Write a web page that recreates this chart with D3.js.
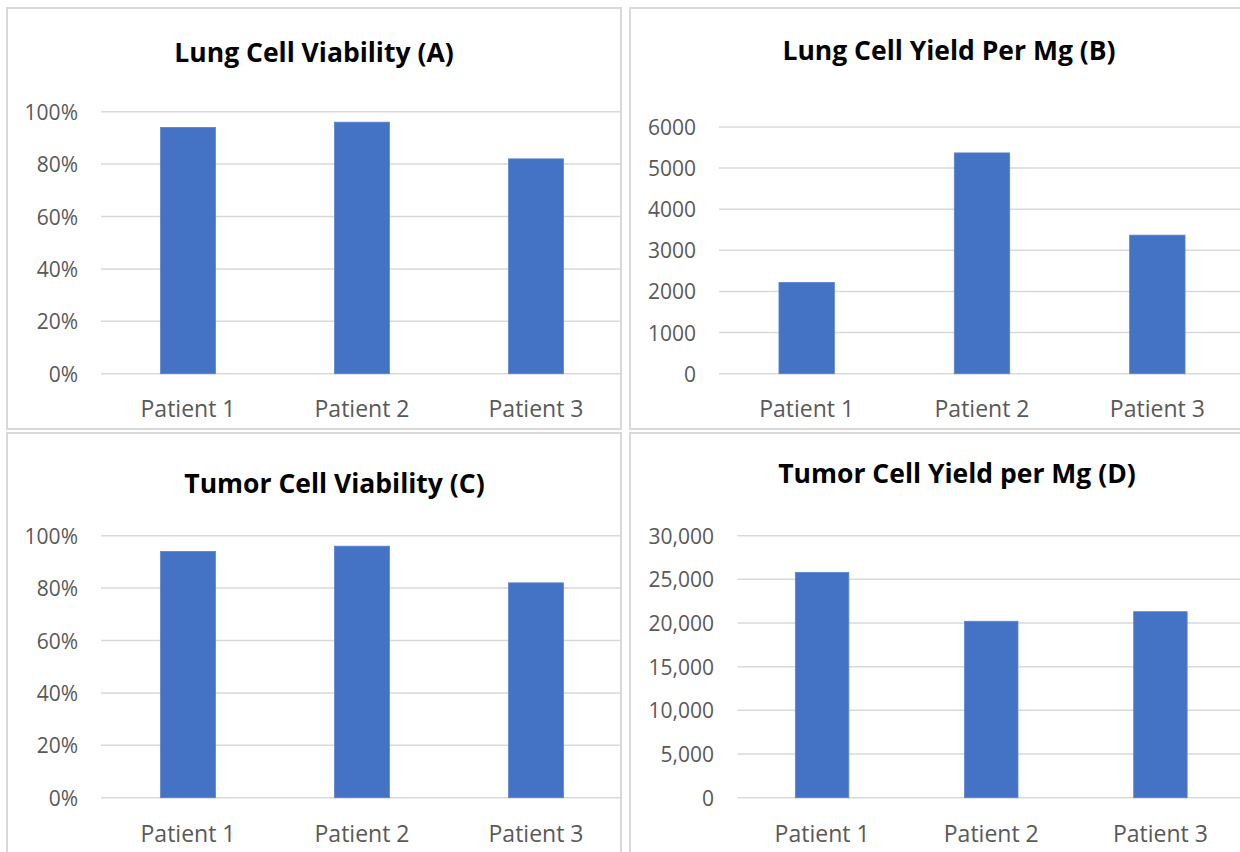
<!DOCTYPE html>
<html>
<head>
<meta charset="utf-8">
<script src="https://cdn.jsdelivr.net/npm/d3@7"></script>
<style>
  html, body { margin: 0; padding: 0; background: #ffffff; }
  svg { display: block; }
</style>
</head>
<body>
<svg id="chart" width="1240" height="852"></svg>
<script>
// Categories and series values
const patients = ["Patient 1", "Patient 2", "Patient 3"];
const lungViability = [0.94, 0.96, 0.82];
const lungYieldPerMg = [2220, 5370, 3370];
const tumorViability = [0.94, 0.96, 0.82];
const tumorYieldPerMg = [25800, 20200, 21300];

// Tick values for each value axis
const viabilityTicks = [0, 0.2, 0.4, 0.6, 0.8, 1.0];
const lungYieldTicks = [0, 1000, 2000, 3000, 4000, 5000, 6000];
const tumorYieldTicks = [0, 5000, 10000, 15000, 20000, 25000, 30000];

// Panel titles
const titles = [
  "Lung Cell Viability (A)",
  "Lung Cell Yield Per Mg (B)",
  "Tumor Cell Viability (C)",
  "Tumor Cell Yield per Mg (D)"
];

const BAR_COLOR = "#4472C4";
const GRID_COLOR = "#d9d9d9";
const TEXT_COLOR = "#595959";
const FONT = "'Open Sans', 'Noto Sans', sans-serif";

const pct = d3.format(".0%");
const plain = d3.format("d");
const comma = d3.format(",");

// Layout of each chart panel
const panels = [
  { title: titles[0], values: lungViability, ticks: viabilityTicks, fmt: pct,
    box: [7, 8, 614, 421], x: [101, 623], y: [373.7, 111.7], titleX: 314, titleY: 52, labelX: 78, catY: 408 },
  { title: titles[1], values: lungYieldPerMg, ticks: lungYieldTicks, fmt: plain,
    box: [630, 8, 640, 421], x: [719, 1245], y: [373.7, 127], titleX: 949, titleY: 50, labelX: 696, catY: 408 },
  { title: titles[2], values: tumorViability, ticks: viabilityTicks, fmt: pct,
    box: [7, 433, 614, 440], x: [101, 623], y: [797.7, 535.7], titleX: 334.5, titleY: 483, labelX: 78, catY: 832.5 },
  { title: titles[3], values: tumorYieldPerMg, ticks: tumorYieldTicks, fmt: comma,
    box: [630, 433, 640, 440], x: [737.5, 1245], y: [797.7, 535.7], titleX: 957, titleY: 473, labelX: 714, catY: 832.5 }
];

const svg = d3.select("#chart");

panels.forEach(p => {
  const g = svg.append("g");
  const [bx, by, bw, bh] = p.box;

  // panel frame
  g.append("rect")
    .attr("x", bx).attr("y", by).attr("width", bw).attr("height", bh)
    .attr("fill", "#ffffff").attr("stroke", GRID_COLOR).attr("stroke-width", 2);

  const x = d3.scaleBand().domain(patients).range(p.x).paddingInner(0.684).paddingOuter(0.342);
  const y = d3.scaleLinear().domain([p.ticks[0], p.ticks[p.ticks.length - 1]]).range(p.y);

  // horizontal gridlines
  g.append("g").selectAll("line").data(p.ticks).join("line")
    .attr("x1", p.x[0]).attr("x2", bx + bw)
    .attr("y1", d => y(d)).attr("y2", d => y(d))
    .attr("stroke", GRID_COLOR).attr("stroke-width", 1.5);

  // value-axis labels
  g.append("g").selectAll("text").data(p.ticks).join("text")
    .attr("x", p.labelX).attr("y", d => y(d))
    .attr("text-anchor", "end").attr("dominant-baseline", "central")
    .attr("font-family", FONT).attr("font-size", 21).attr("fill", TEXT_COLOR)
    .text(d => p.fmt(d));

  // bars
  g.append("g").selectAll("rect").data(p.values).join("rect")
    .attr("x", (d, i) => x(patients[i]))
    .attr("width", x.bandwidth())
    .attr("y", d => y(d))
    .attr("height", d => y(0) - y(d))
    .attr("fill", BAR_COLOR)
    .attr("stroke", "#5b84cc").attr("stroke-width", 0.8);

  // category labels
  g.append("g").selectAll("text").data(patients).join("text")
    .attr("x", d => x(d) + x.bandwidth() / 2).attr("y", p.catY)
    .attr("text-anchor", "middle").attr("dominant-baseline", "central")
    .attr("font-family", FONT).attr("font-size", 23).attr("fill", TEXT_COLOR)
    .text(d => d);

  // title
  g.append("text")
    .attr("x", p.titleX).attr("y", p.titleY)
    .attr("text-anchor", "middle").attr("dominant-baseline", "central")
    .attr("font-family", FONT).attr("font-weight", "bold").attr("font-size", 26.5)
    .attr("fill", "#000000")
    .text(p.title);
});
</script>
</body>
</html>
